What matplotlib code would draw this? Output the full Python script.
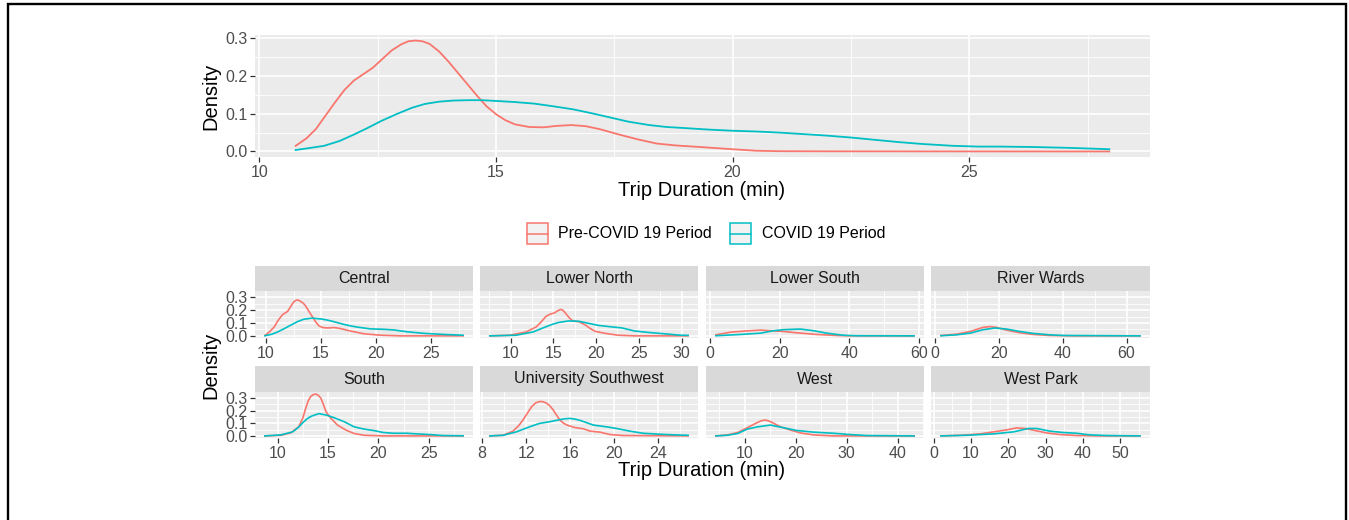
import matplotlib as mpl
import matplotlib.pyplot as plt
from matplotlib.patches import Rectangle
from matplotlib.lines import Line2D
from matplotlib.ticker import AutoMinorLocator, FormatStrFormatter, FixedLocator

mpl.rcParams["font.family"] = ["Liberation Sans", "DejaVu Sans"]

PRE_COLOR = "#F8766D"
COV_COLOR = "#00BFC4"
PANEL_BG = "#EBEBEB"
STRIP_BG = "#D9D9D9"

# ---- data ----
series_labels = ["Pre-COVID 19 Period", "COVID 19 Period"]

top_pre_x = [10.77, 11.0, 11.2, 11.4, 11.6, 11.8, 12.0, 12.2, 12.4, 12.6, 12.8, 13.0,
             13.15, 13.3, 13.45, 13.6, 13.8, 14.0, 14.2, 14.4, 14.6, 14.8, 15.0, 15.2,
             15.4, 15.7, 16.0, 16.3, 16.6, 16.9, 17.2, 17.6, 18.0, 18.4, 18.8, 19.3,
             20.0, 20.5, 21.0, 22.0, 24.0, 26.0, 27.96]
top_pre_y = [0.015, 0.035, 0.06, 0.095, 0.13, 0.163, 0.188, 0.205, 0.222, 0.245, 0.268, 0.284,
             0.292, 0.294, 0.292, 0.285, 0.265, 0.238, 0.208, 0.178, 0.148, 0.12, 0.099, 0.083,
             0.072, 0.065, 0.064, 0.068, 0.070, 0.067, 0.059, 0.045, 0.032, 0.021, 0.016, 0.012,
             0.006, 0.002, 0.0008, 0.0005, 0.0003, 0.0002, 0.0001]
top_cov_x = [10.77, 11.0, 11.37, 11.7, 12.02, 12.3, 12.58, 12.9, 13.23, 13.5, 13.8, 14.1,
             14.44, 14.7, 15.0, 15.4, 15.8, 16.2, 16.62, 17.0, 17.42, 17.8, 18.24, 18.6,
             19.0, 19.5, 20.0, 20.5, 21.0, 21.5, 22.0, 22.5, 23.0, 23.5, 24.0, 24.66,
             25.2, 25.65, 26.3, 27.0, 27.5, 27.96]
top_cov_y = [0.004, 0.008, 0.015, 0.028, 0.046, 0.063, 0.081, 0.099, 0.116, 0.126, 0.132, 0.135,
             0.136, 0.136, 0.134, 0.131, 0.127, 0.120, 0.112, 0.102, 0.09, 0.079, 0.07, 0.065,
             0.062, 0.058, 0.055, 0.053, 0.05, 0.046, 0.042, 0.037, 0.031, 0.025, 0.02, 0.015,
             0.013, 0.013, 0.012, 0.01, 0.008, 0.006]
top_xticks = [10, 15, 20, 25]
density_ticks = [0.0, 0.1, 0.2, 0.3]

regions = ["Central", "Lower North", "Lower South", "River Wards",
           "South", "University Southwest", "West", "West Park"]

central_pre = [(9.9, 0.003), (10.3, 0.03), (10.75, 0.07), (11.1, 0.12), (11.5, 0.165),
               (11.96, 0.19), (12.2, 0.222), (12.4, 0.25), (12.6, 0.27), (12.77, 0.278),
               (12.95, 0.277), (13.16, 0.267), (13.4, 0.252), (13.6, 0.232), (13.9, 0.19),
               (14.2, 0.15), (14.5, 0.11), (14.8, 0.078), (15.1, 0.066), (15.4, 0.062),
               (15.8, 0.062), (16.17, 0.065), (16.75, 0.057), (17.65, 0.038), (18.9, 0.016),
               (20.4, 0.005), (22.2, 0.0), (27.9, 0.0)]
central_cov = [(9.9, 0.001), (10.5, 0.012), (11.05, 0.03), (11.7, 0.058), (12.26, 0.084),
               (12.9, 0.112), (13.46, 0.13), (14.2, 0.138), (15.1, 0.13), (15.6, 0.122),
               (16.17, 0.11), (17.08, 0.089), (17.7, 0.077), (18.3, 0.068), (19.5, 0.054),
               (20.7, 0.051), (21.6, 0.046), (22.8, 0.032), (24.4, 0.019), (26.2, 0.011),
               (27.9, 0.005)]

lower_north_pre = [(7.57, 0.0), (9.9, 0.005), (11.8, 0.03), (13.0, 0.07), (13.6, 0.11),
                   (14.1, 0.15), (14.6, 0.168), (15.1, 0.178), (15.5, 0.195), (15.86, 0.205),
                   (16.1, 0.2), (16.4, 0.178), (16.8, 0.145), (17.2, 0.119), (17.6, 0.113),
                   (18.0, 0.11), (18.75, 0.084), (19.3, 0.058), (19.9, 0.035), (21.1, 0.019),
                   (22.6, 0.005), (24.5, 0.0), (30.77, 0.0)]
lower_north_cov = [(7.57, 0.0), (10.65, 0.005), (12.6, 0.03), (14.1, 0.07), (14.9, 0.09),
                   (15.66, 0.105), (16.8, 0.116), (18.0, 0.113), (19.15, 0.097), (20.3, 0.081),
                   (21.8, 0.07), (23.0, 0.062), (24.5, 0.038), (26.07, 0.027), (28.0, 0.016),
                   (29.9, 0.005), (30.77, 0.004)]

lower_south_pre = [(1.7, 0.008), (6.0, 0.029), (9.8, 0.037), (14.5, 0.045), (17.3, 0.04),
                   (21.1, 0.034), (24.9, 0.024), (30.6, 0.011), (36.3, 0.003), (40.1, 0.0),
                   (58.6, 0.0)]
lower_south_cov = [(1.7, 0.001), (8.8, 0.011), (14.5, 0.021), (18.3, 0.04), (21.1, 0.048),
                   (25.9, 0.053), (29.7, 0.04), (33.5, 0.021), (38.2, 0.005), (42.0, 0.001),
                   (58.6, 0.0)]

river_wards_pre = [(1.9, 0.003), (6.8, 0.013), (11.0, 0.034), (15.1, 0.066), (17.2, 0.072),
                   (19.3, 0.066), (22.4, 0.045), (26.6, 0.024), (30.8, 0.011), (36.0, 0.003),
                   (43.3, 0.0), (64.2, 0.0)]
river_wards_cov = [(1.9, 0.001), (6.8, 0.008), (11.0, 0.021), (15.1, 0.048), (18.8, 0.061),
                   (22.4, 0.053), (26.6, 0.034), (30.8, 0.019), (36.0, 0.008), (40.2, 0.003),
                   (64.2, 0.0)]

south_pre = [(8.75, 0.0), (10.33, 0.005), (11.3, 0.024), (12.1, 0.072), (12.5, 0.14),
             (12.8, 0.22), (13.05, 0.28), (13.3, 0.314), (13.55, 0.328), (13.8, 0.332),
             (14.05, 0.322), (14.3, 0.3), (14.55, 0.25), (14.8, 0.193), (15.3, 0.139),
             (15.95, 0.086), (16.8, 0.046), (17.6, 0.019), (18.6, 0.005), (20.5, 0.0),
             (28.4, 0.0)]
south_cov = [(8.75, 0.0), (10.33, 0.008), (11.5, 0.032), (12.1, 0.07), (12.6, 0.113),
             (13.0, 0.14), (13.4, 0.158), (14.1, 0.177), (14.8, 0.166), (15.6, 0.145),
             (16.6, 0.113), (17.6, 0.072), (18.6, 0.054), (19.5, 0.043), (20.5, 0.027),
             (21.5, 0.021), (22.8, 0.021), (23.8, 0.016), (25.1, 0.011), (26.4, 0.003),
             (28.4, 0.001)]

usw_pre = [(8.7, 0.0), (9.9, 0.005), (10.8, 0.038), (11.3, 0.08), (11.7, 0.126),
           (12.1, 0.18), (12.5, 0.233), (12.85, 0.262), (13.2, 0.273), (13.5, 0.272),
           (13.85, 0.26), (14.15, 0.238), (14.45, 0.206), (14.75, 0.165), (15.06, 0.126),
           (15.4, 0.1), (15.7, 0.086), (16.4, 0.067), (17.2, 0.056), (17.8, 0.038),
           (18.7, 0.03), (19.6, 0.011), (20.8, 0.003), (26.7, 0.0)]
usw_cov = [(8.7, 0.0), (9.9, 0.005), (11.1, 0.032), (12.3, 0.072), (13.2, 0.099),
           (14.15, 0.113), (15.06, 0.129), (15.5, 0.136), (16.0, 0.139), (16.45, 0.133),
           (16.9, 0.123), (18.1, 0.086), (19.3, 0.072), (20.2, 0.059), (21.4, 0.038),
           (22.6, 0.021), (24.2, 0.013), (25.6, 0.008), (26.7, 0.005)]

west_pre = [(4.34, 0.0), (6.6, 0.008), (8.6, 0.027), (10.2, 0.059), (12.1, 0.099),
            (13.2, 0.12), (13.95, 0.126), (14.5, 0.121), (15.05, 0.113), (17.0, 0.072),
            (19.0, 0.046), (20.9, 0.024), (23.5, 0.008), (27.4, 0.0), (43.2, 0.0)]
west_cov = [(4.34, 0.0), (6.6, 0.005), (8.6, 0.019), (10.5, 0.054), (12.5, 0.072),
            (15.05, 0.086), (17.7, 0.064), (20.2, 0.043), (23.5, 0.03), (27.4, 0.021),
            (30.6, 0.011), (33.9, 0.003), (43.2, 0.0)]

west_park_pre = [(1.96, 0.0), (7.1, 0.005), (12.5, 0.016), (16.0, 0.032), (19.6, 0.048),
                 (22.2, 0.064), (24.5, 0.059), (26.7, 0.046), (30.2, 0.024), (33.8, 0.011),
                 (38.3, 0.003), (44.5, 0.0), (55.3, 0.0)]
west_park_cov = [(1.96, 0.0), (8.9, 0.005), (16.0, 0.016), (21.4, 0.032), (25.4, 0.059),
                 (27.6, 0.059), (31.1, 0.038), (34.7, 0.027), (38.3, 0.021), (41.9, 0.008),
                 (46.3, 0.003), (55.3, 0.0)]

region_xticks = [
    [10, 15, 20, 25],
    [10, 15, 20, 25, 30],
    [0, 20, 40, 60],
    [0, 20, 40, 60],
    [10, 15, 20, 25],
    [8, 12, 16, 20, 24],
    [10, 20, 30, 40],
    [0, 10, 20, 30, 40, 50],
]

region_curves = [
    (central_pre, central_cov),
    (lower_north_pre, lower_north_cov),
    (lower_south_pre, lower_south_cov),
    (river_wards_pre, river_wards_cov),
    (south_pre, south_cov),
    (usw_pre, usw_cov),
    (west_pre, west_cov),
    (west_park_pre, west_park_cov),
]

# ---- layout (pixels) ----
W, H = 1349, 520


def px_axes(fig, x0, y0, x1, y1, **kw):
    return fig.add_axes([x0 / W, 1 - y1 / H, (x1 - x0) / W, (y1 - y0) / H], **kw)


def style_panel(ax, xticks, show_y=True):
    ax.set_facecolor(PANEL_BG)
    for s in ax.spines.values():
        s.set_visible(False)
    ax.xaxis.set_major_locator(FixedLocator(xticks))
    ax.xaxis.set_minor_locator(AutoMinorLocator(2))
    ax.yaxis.set_major_locator(FixedLocator(density_ticks))
    ax.yaxis.set_minor_locator(AutoMinorLocator(2))
    ax.yaxis.set_major_formatter(FormatStrFormatter("%.1f"))
    ax.grid(which="major", color="white", linewidth=1.2)
    ax.grid(which="minor", color="white", linewidth=0.6)
    ax.set_axisbelow(True)
    ax.tick_params(which="major", direction="out", length=3.5, width=0.9,
                   color="#333333", labelcolor="#4D4D4D", labelsize=11.5, pad=2)
    ax.tick_params(which="minor", length=0)
    if not show_y:
        ax.tick_params(axis="y", which="both", length=0, labelleft=False)


fig = plt.figure(figsize=(W / 100, H / 100), dpi=100)

# top panel
ax_top = px_axes(fig, 255, 35, 1150, 157)
ax_top.plot(top_pre_x, top_pre_y, color=PRE_COLOR, lw=1.3)
ax_top.plot(top_cov_x, top_cov_y, color=COV_COLOR, lw=1.3)
style_panel(ax_top, top_xticks)
fig.text(211 / W, 1 - 96 / H, "Density", rotation=90, ha="center", va="center",
         fontsize=14.5, color="black")
fig.text(702 / W, 1 - 190 / H, "Trip Duration (min)", ha="center", va="center",
         fontsize=14.5, color="black")

# legend
for (kx, tx), label, color in zip([(527, 558), (730, 762)], series_labels,
                                  [PRE_COLOR, COV_COLOR]):
    fig.add_artist(Rectangle((kx / W, 1 - 244 / H), 21 / W, 21 / H,
                             transform=fig.transFigure, facecolor="#F2F2F2",
                             edgecolor=color, linewidth=1.1))
    fig.add_artist(Line2D([kx / W, (kx + 21) / W], [1 - 233.5 / H, 1 - 233.5 / H],
                          transform=fig.transFigure, color=color, linewidth=1.1))
    fig.text(tx / W, 1 - 234 / H, label, ha="left", va="center",
             fontsize=11.5, color="black")

# facets
cols = [(255, 473), (480, 698), (706, 924), (931, 1150)]
rows = [(266, 291, 338), (366, 392, 438)]
share = None
for i, (name, (pre, cov), ticks) in enumerate(zip(regions, region_curves, region_xticks)):
    r, c = divmod(i, 4)
    x0, x1 = cols[c]
    s0, p0, p1 = rows[r]
    ax = px_axes(fig, x0, p0, x1, p1, sharey=share)
    if share is None:
        share = ax
    ax.plot([p[0] for p in pre], [p[1] for p in pre], color=PRE_COLOR, lw=1.2)
    ax.plot([p[0] for p in cov], [p[1] for p in cov], color=COV_COLOR, lw=1.2)
    style_panel(ax, ticks, show_y=(c == 0))
    ax.margins(x=0.05)
    strip = px_axes(fig, x0, s0, x1, p0)
    strip.set_facecolor(STRIP_BG)
    strip.set_xticks([])
    strip.set_yticks([])
    for s in strip.spines.values():
        s.set_visible(False)
    strip.text(0.5, 0.5, name, ha="center", va="center", fontsize=11.5,
               color="#1A1A1A", transform=strip.transAxes)

fig.text(211 / W, 1 - 365 / H, "Density", rotation=90, ha="center", va="center",
         fontsize=14.5, color="black")
fig.text(702 / W, 1 - 470 / H, "Trip Duration (min)", ha="center", va="center",
         fontsize=14.5, color="black")

# outer frame
fig.add_artist(Rectangle((7.5 / W, -0.05), (1346 - 7.5) / W, 1.05 - 4 / H,
                         transform=fig.transFigure, fill=False,
                         edgecolor="black", linewidth=1.7))

fig.savefig("out.png", dpi=100)
